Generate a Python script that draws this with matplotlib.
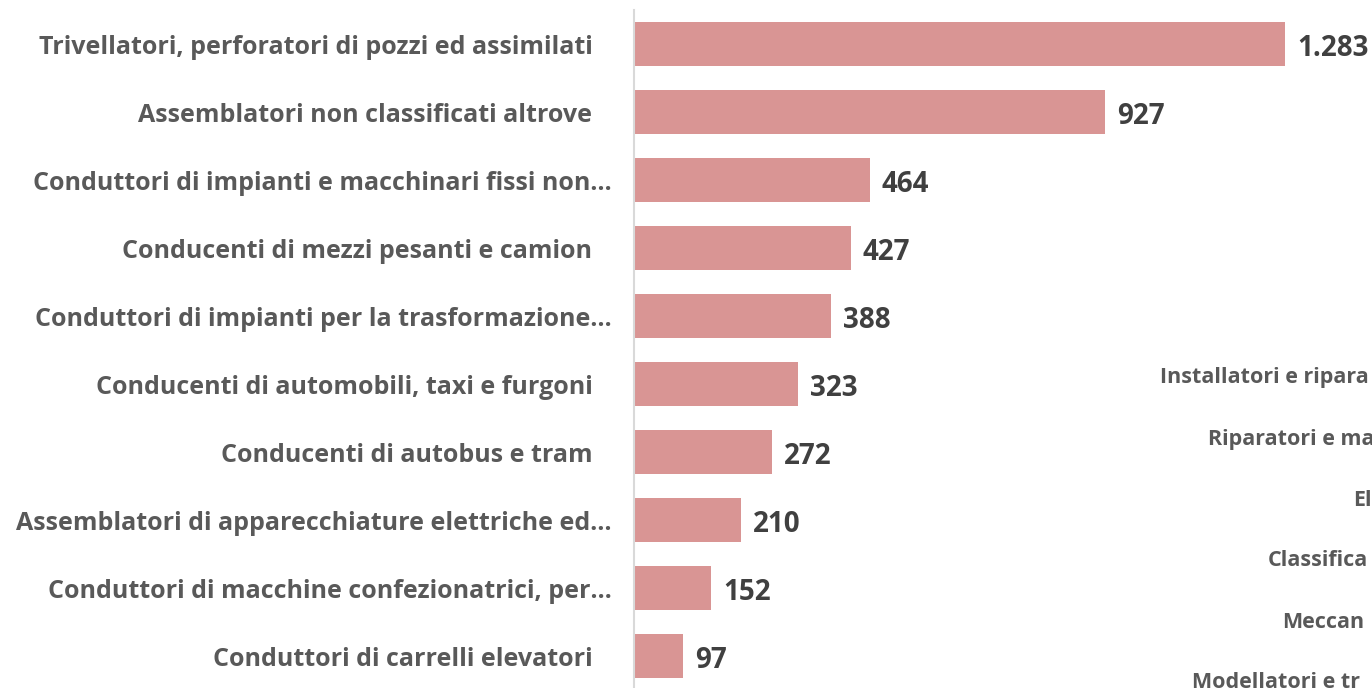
import matplotlib.pyplot as plt

# Occupations (top to bottom) and counts
categories = [
    "Trivellatori, perforatori di pozzi ed assimilati   ",
    "Assemblatori non classificati altrove   ",
    "Conduttori di impianti e macchinari fissi non…",
    "Conducenti di mezzi pesanti e camion   ",
    "Conduttori di impianti per la trasformazione…",
    "Conducenti di automobili, taxi e furgoni   ",
    "Conducenti di autobus e tram   ",
    "Assemblatori di apparecchiature elettriche ed…",
    "Conduttori di macchine confezionatrici, per…",
    "Conduttori di carrelli elevatori   ",
]
values = [1283, 927, 464, 427, 388, 323, 272, 210, 152, 97]

# labels of the neighbouring chart, cut off at the right edge
side_labels = ["Installatori e ripara", "Riparatori e ma", "El",
               "Classifica", "Meccan", "Modellatori e tr"]

plt.rcParams['font.family'] = ['Open Sans', 'DejaVu Sans']
plt.rcParams['font.weight'] = 'bold'

fig = plt.figure(figsize=(13.72, 6.88), dpi=100)
ax = fig.add_axes([634 / 1372, -2 / 688, 1 - 634 / 1372, 680 / 688])

ypos = list(range(len(values)))
ax.barh(ypos, values, height=0.66, color='#D99594')
ax.set_ylim(len(values) - 0.5, -0.5)
ax.set_xlim(0, 1454)

for y, v in zip(ypos, values):
    txt = f"{v:,}".replace(",", ".")
    ax.text(v + 24, y + 0.06, txt, va='center', ha='left', fontsize=20,
            color='#404040', fontweight='bold')

ax.set_yticks(ypos)
ax.set_yticklabels(categories, fontsize=18, color='#595959', fontweight='bold')
ax.tick_params(axis='y', length=0, pad=16)
ax.set_xticks([])
for s in ['top', 'right', 'bottom']:
    ax.spines[s].set_visible(False)
ax.spines['left'].set_color('#D9D9D9')
ax.spines['left'].set_linewidth(1.5)

side_x = [1160, 1208, 1353, 1268, 1282, 1192]
for i, (lab, sx) in enumerate(zip(side_labels, side_x)):
    fig.text(sx / 1372, 1 - (378 + 61 * i) / 688, lab, ha='left', va='center',
             fontsize=15.5, color='#595959', fontweight='bold')

fig.savefig('out.png', dpi=100)
